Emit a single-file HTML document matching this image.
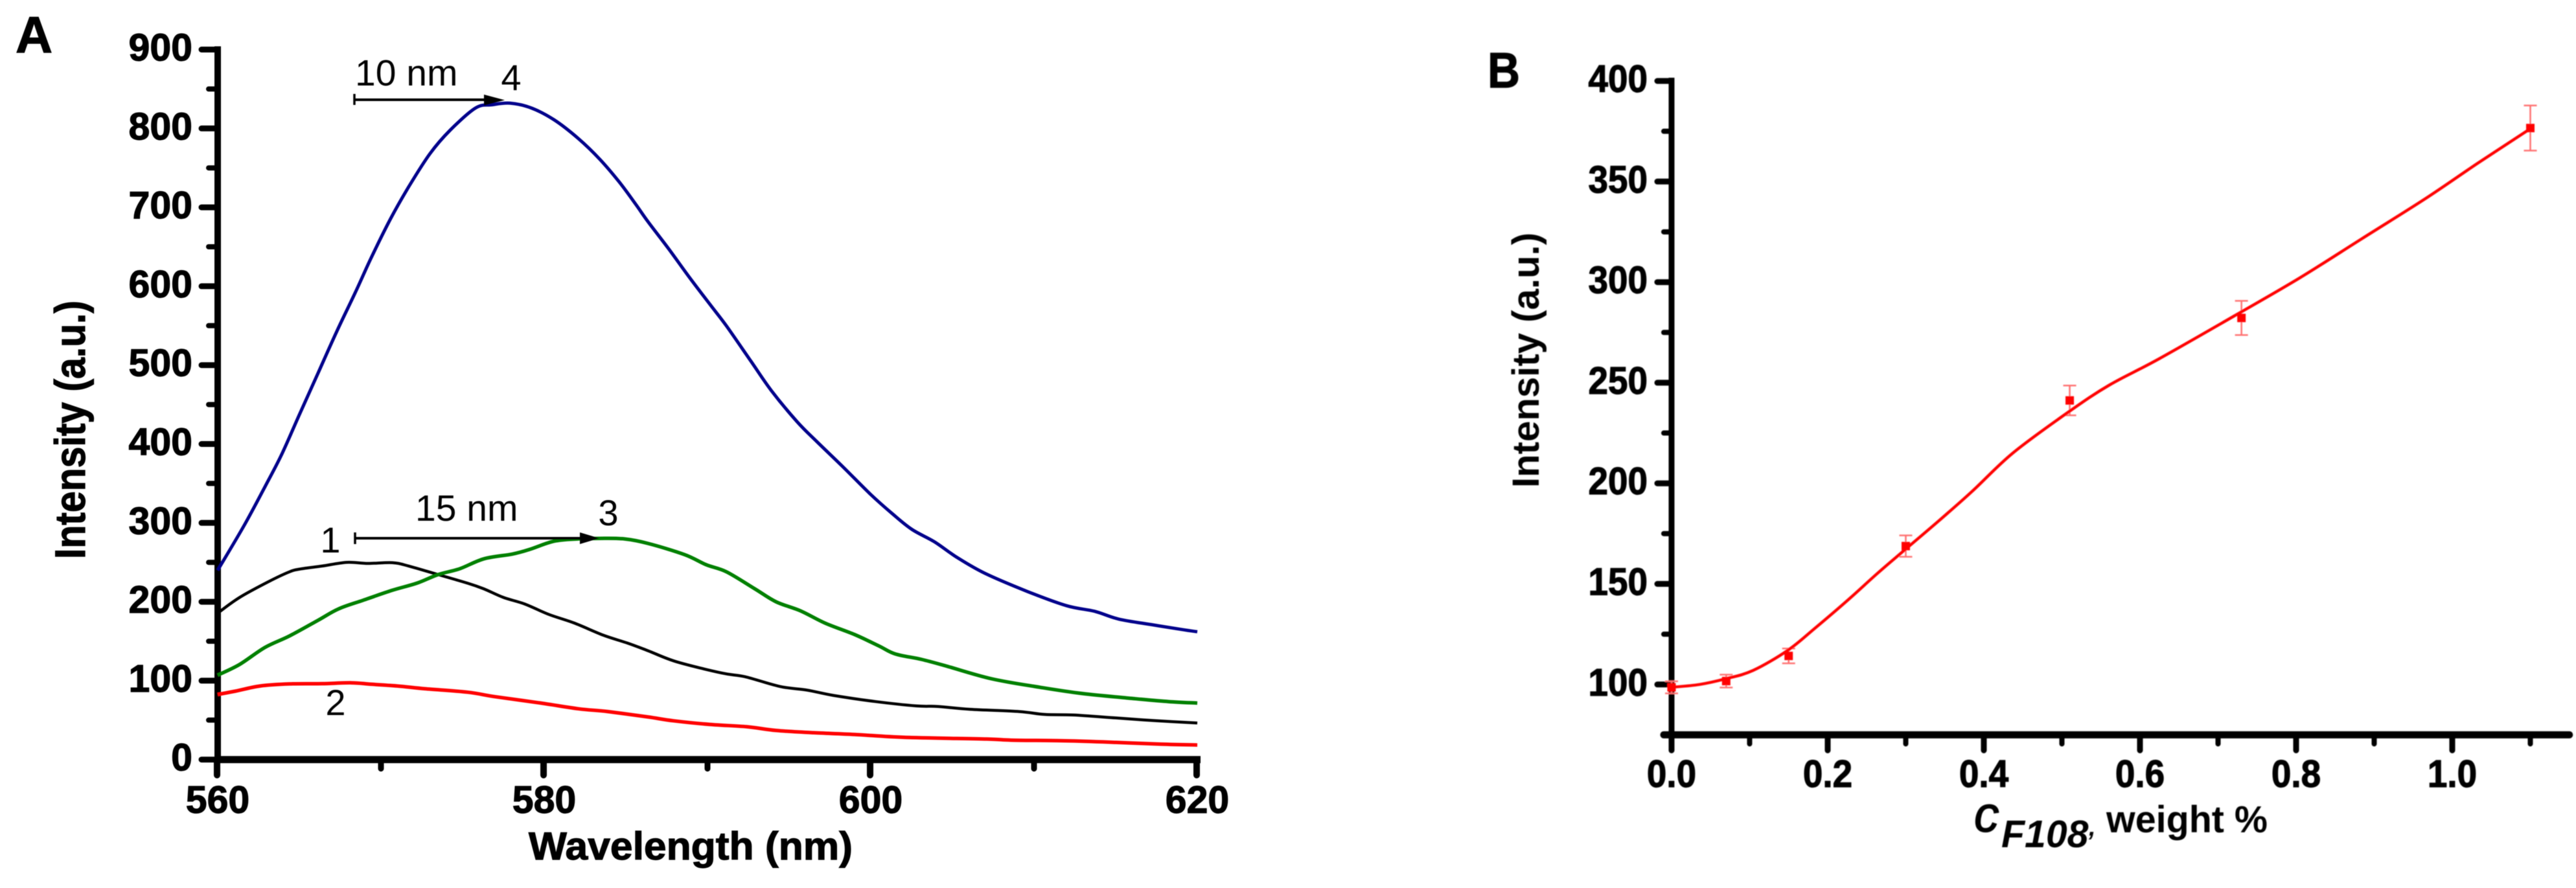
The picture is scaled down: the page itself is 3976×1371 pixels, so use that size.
<!DOCTYPE html>
<html lang="en">
<head>
<meta charset="utf-8">
<title>Fluorescence spectra and intensity versus F108 concentration</title>
<style>
  html, body { margin: 0; padding: 0; background: #fff; }
  svg { display: block; }
  text { font-family: "Liberation Sans", Arial, sans-serif; fill: #000; }
  .b { font-weight: bold; }
  .h { font-weight: bold; stroke: #000; stroke-width: 1.2px; }
</style>
</head>
<body>
<svg id="figure" xmlns="http://www.w3.org/2000/svg" width="3976" height="1371" viewBox="0 0 3976 1371">
  <defs>
    <filter id="soft" x="-2%" y="-2%" width="104%" height="104%"><feGaussianBlur stdDeviation="0.9"/></filter>
    <filter id="softer" x="-2%" y="-2%" width="104%" height="104%"><feGaussianBlur stdDeviation="0.5"/></filter>
  </defs>
  <rect width="3976" height="1371" fill="#fff"/>

  <g id="panel-a" filter="url(#softer)">
    <text class="h" x="24" y="81" font-size="79">A</text>
    <text class="h" font-size="66" textLength="399" lengthAdjust="spacingAndGlyphs" transform="translate(131,863) rotate(-90)">Intensity (a.u.)</text>
    <text class="h" x="816" y="1327" font-size="60" textLength="500" lengthAdjust="spacingAndGlyphs">Wavelength (nm)</text>
    <g id="a-axes"></g>
    <g id="a-curves"></g>

    <g>
      <line x1="547" y1="154" x2="752" y2="154" stroke="#000" stroke-width="4"/>
      <line x1="547" y1="145" x2="547" y2="162" stroke="#000" stroke-width="3.5"/>
      <polygon points="747,146 779,154.5 747,163" fill="#000"/>
    </g>
    <text x="548" y="132" font-size="57">10 nm</text>
    <text x="789" y="139" font-size="56" text-anchor="middle">4</text>

    <g>
      <line x1="548" y1="831" x2="900" y2="831" stroke="#000" stroke-width="4"/>
      <line x1="548" y1="822" x2="548" y2="840" stroke="#000" stroke-width="3.5"/>
      <polygon points="895,822 925,831 895,840" fill="#000"/>
    </g>
    <text x="641" y="804" font-size="57">15 nm</text>
    <text x="510" y="853" font-size="56" text-anchor="middle">1</text>
    <text x="518" y="1104" font-size="56" text-anchor="middle">2</text>
    <text x="939" y="811" font-size="56" text-anchor="middle">3</text>
  </g>

  <g id="panel-b" filter="url(#soft)">
    <text class="h" font-size="77" transform="translate(2296,135) scale(.9,1)">B</text>
    <text class="b" font-size="58" textLength="394" lengthAdjust="spacingAndGlyphs" transform="translate(2375,753) rotate(-90)">Intensity (a.u.)</text>
    <g>
      <text font-style="italic" stroke="#000" stroke-width="1.5" x="3047" y="1284" font-size="77">c</text>
      <text class="b" font-style="italic" x="3089" y="1308" font-size="59">F108</text>
      <text class="b" font-style="italic" x="3224" y="1290" font-size="38">,</text>
      <text class="b" x="3251" y="1285" font-size="58" textLength="249" lengthAdjust="spacingAndGlyphs">weight %</text>
    </g>
    <g id="b-axes"></g>
    <g id="b-series"></g>
  </g>
</svg>

<script>
/* ---------- Panel A data ---------- */
const aYTicks = [0, 100, 200, 300, 400, 500, 600, 700, 800, 900];
const aYMinor = [50, 150, 250, 350, 450, 550, 650, 750, 850];
const aXTicks = [560, 580, 600, 620];
const aXMinor = [570, 590, 610];

const curve4Wavelength = [560, 561.6, 562.9, 563.9, 565, 566.15, 567.3, 568.43, 569.4, 570.6, 571.7, 573, 574.25, 575.8, 576.8, 577.9, 579.2, 580.6, 582.1, 583.4, 584.6, 585.6, 586.35, 587.6, 588.9, 590.15, 591.15, 592.66, 593.9, 595.5, 596.7, 598.25, 600, 601.3, 602.5, 603.9, 605.3, 607, 609.6, 612, 613.7, 615.2, 617.2, 619, 620];
const curve4Intensity = [240, 296, 346, 386, 437, 490, 543, 592, 636, 686, 726, 768, 798, 826, 830, 832, 826, 811, 787, 761, 732, 704, 682, 648, 611, 577, 550, 505, 468, 428, 403, 372, 336, 312, 292, 276, 256, 236, 213, 195, 188, 178, 171, 165, 162];

const curve1Wavelength = [560, 561.34, 563.1, 564.4, 565.1, 566.4, 567.9, 569.2, 570.7, 571.7, 573.5, 575.3, 576.3, 577.5, 578.8, 580.3, 581.85, 583.6, 585.1, 586.35, 588.1, 590.9, 592.3, 594.45, 596.1, 597.7, 600.3, 602.8, 604.1, 606.1, 609.1, 610.65, 612.4, 615, 617.5, 620];
const curve1Intensity = [185.6, 205.5, 225.4, 238, 241.7, 245.3, 250, 248.6, 249.6, 245.3, 234.5, 223.6, 216.4, 205.5, 197.2, 183.8, 173, 157.8, 147.6, 138, 124, 109.6, 105, 92.6, 88, 81.4, 73.5, 68, 67.3, 63.7, 60.8, 57.2, 56.5, 52.8, 49.2, 46.3];

const curve3Wavelength = [560, 561.34, 562.9, 564.4, 566.15, 567.4, 568.9, 570.7, 572.2, 573.5, 574.8, 576.3, 578.05, 579.1, 580.6, 582.1, 583.4, 584.9, 586.35, 588.6, 589.9, 591.16, 592.9, 594.2, 595.7, 597.2, 599, 600.5, 601.5, 603.1, 604.6, 607.4, 610.4, 613, 616.2, 618.25, 620];
const curve3Intensity = [107, 120.5, 142.2, 156.7, 176.6, 191, 201.9, 214.6, 223.6, 234.5, 241.7, 254.4, 260.5, 266.3, 276.8, 279.7, 280.4, 279.7, 274, 259.8, 247.1, 238, 216.4, 200, 188.5, 173, 158.5, 144, 133.9, 127, 118.7, 102.4, 91.5, 83.6, 77.1, 73.5, 71.6];

const curve2Wavelength = [560, 561.1, 562.6, 564.4, 566.4, 568.2, 569.4, 571, 572.7, 575.3, 577, 579.8, 582.1, 583.9, 586.35, 587.9, 590.15, 592.4, 594.2, 596.5, 599, 602.05, 607.1, 608.6, 611.7, 614.2, 617.75, 620];
const curve2Intensity = [82.5, 86.8, 93.3, 95.9, 96.2, 97.3, 95.5, 93.3, 89.7, 85.4, 79.6, 71.6, 64.4, 60.8, 54, 49.2, 44.5, 41.6, 36.9, 34, 31.8, 28.2, 26, 24.6, 23.9, 22.4, 19.5, 18.5];

/* ---------- Panel B data ---------- */
const bYTicks = [100, 150, 200, 250, 300, 350, 400];
const bYMinor = [75, 125, 175, 225, 275, 325, 375];
const bXTicks = [0, 0.2, 0.4, 0.6, 0.8, 1.0];
const bXMinor = [0.1, 0.3, 0.5, 0.7, 0.9, 1.1];

const concentration = [0, 0.07, 0.15, 0.3, 0.51, 0.73, 1.1];
const pointIntensity = [98.6, 101.7, 114.2, 168.8, 241.2, 282.2, 376.6];
const pointError = [3, 3.2, 3.7, 5.3, 7.4, 8.5, 11.2];

const fitConcentration = [0, 0.0357, 0.069, 0.1045, 0.149, 0.1838, 0.226, 0.263, 0.299, 0.3427, 0.385, 0.437, 0.5086, 0.5615, 0.625, 0.7288, 0.805, 0.8843, 0.9636, 1.0323, 1.099];
const fitIntensity = [98.6, 100, 102.8, 107, 117, 128, 142, 155, 167, 181.5, 196, 215, 235.5, 249, 262, 285, 302.2, 321.6, 341, 359, 376];

/* ---------- Axis functions ---------- */
const axX = v => 336 + (v - 560) * 25.2;
const axY = v => 1172.7 - v * 1.218;
const bxX = v => 2580 + v * 1205;
const bxY = v => 125 + (400 - v) * 3.106;

const SVGNS = 'http://www.w3.org/2000/svg';
function mk(parent, tag, attrs) {
  const el = document.createElementNS(SVGNS, tag);
  for (const k in attrs) el.setAttribute(k, attrs[k]);
  parent.appendChild(el);
  return el;
}
function smoothPath(xs, ys) {
  let d = 'M' + xs[0].toFixed(1) + ' ' + ys[0].toFixed(1);
  for (let i = 0; i < xs.length - 1; i++) {
    const p0 = Math.max(i - 1, 0), p3 = Math.min(i + 2, xs.length - 1);
    const c1x = xs[i] + (xs[i + 1] - xs[p0]) / 6, c1y = ys[i] + (ys[i + 1] - ys[p0]) / 6;
    const c2x = xs[i + 1] - (xs[p3] - xs[i]) / 6, c2y = ys[i + 1] - (ys[p3] - ys[i]) / 6;
    d += 'C' + c1x.toFixed(1) + ' ' + c1y.toFixed(1) + ' ' + c2x.toFixed(1) + ' ' + c2y.toFixed(1) + ' ' + xs[i + 1].toFixed(1) + ' ' + ys[i + 1].toFixed(1);
  }
  return d;
}

/* ---------- Panel A axes ---------- */
const aAxes = document.getElementById('a-axes');
const aYLine = mk(aAxes, 'line', { x1: axX(560), x2: axX(560), y1: axY(900) - 5, y2: axY(0) + 5, stroke: '#000', 'stroke-width': 10 });


const aXLine = mk(aAxes, 'line', { x1: axX(560) - 5, x2: axX(620) + 5, y1: axY(0), y2: axY(0), stroke: '#000', 'stroke-width': 11 });



aYTicks.forEach(v => {
  const t = mk(aAxes, 'line', { x1: axX(560) - 25, x2: axX(560), y1: axY(v), y2: axY(v), stroke: '#000', 'stroke-width': 9, 'stroke-linecap': 'round' });
  
  
  const l = mk(aAxes, 'text', { x: 297, y: axY(v) + 17, 'font-size': 59, 'text-anchor': 'end', class: 'h' });
  l.textContent = v;
  
  
});
aYMinor.forEach(v => {
  const t = mk(aAxes, 'line', { x1: axX(560) - 14, x2: axX(560), y1: axY(v), y2: axY(v), stroke: '#000', 'stroke-width': 8, 'stroke-linecap': 'round' });
  
  
});
aXTicks.forEach(v => {
  const t = mk(aAxes, 'line', { x1: axX(v) - 1, x2: axX(v) - 1, y1: axY(0), y2: axY(0) + 24, stroke: '#000', 'stroke-width': 10, 'stroke-linecap': 'round' });
  
  
  const l = mk(aAxes, 'text', { x: axX(v), y: 1255, 'font-size': 59, 'text-anchor': 'middle', class: 'h' });
  l.textContent = v;
  
  
});
aXMinor.forEach(v => {
  const t = mk(aAxes, 'line', { x1: axX(v), x2: axX(v), y1: axY(0), y2: axY(0) + 14, stroke: '#000', 'stroke-width': 9, 'stroke-linecap': 'round' });
  
  
});

/* ---------- Panel A curves ---------- */
const aCurves = document.getElementById('a-curves');
const c1 = mk(aCurves, 'path', { d: smoothPath(curve1Wavelength.map(axX), curve1Intensity.map(axY)), fill: 'none', stroke: '#000', 'stroke-width': 4.5 });


const c2 = mk(aCurves, 'path', { d: smoothPath(curve2Wavelength.map(axX), curve2Intensity.map(axY)), fill: 'none', stroke: '#ff0000', 'stroke-width': 5.5 });


const c3 = mk(aCurves, 'path', { d: smoothPath(curve3Wavelength.map(axX), curve3Intensity.map(axY)), fill: 'none', stroke: '#008000', 'stroke-width': 5.5 });


const c4 = mk(aCurves, 'path', { d: smoothPath(curve4Wavelength.map(axX), curve4Intensity.map(axY)), fill: 'none', stroke: '#00008b', 'stroke-width': 5 });



/* ---------- Panel B axes ---------- */
const bAxes = document.getElementById('b-axes');
const bYLine = mk(bAxes, 'line', { x1: bxX(0), x2: bxX(0), y1: bxY(400) - 5, y2: bxY(75) + 5, stroke: '#000', 'stroke-width': 9 });


const bXLine = mk(bAxes, 'line', { x1: bxX(0) - 12, x2: bxX(1.15), y1: bxY(75), y2: bxY(75), stroke: '#000', 'stroke-width': 11, 'stroke-linecap': 'round' });



bYTicks.forEach(v => {
  const t = mk(bAxes, 'line', { x1: bxX(0) - 22, x2: bxX(0), y1: bxY(v), y2: bxY(v), stroke: '#000', 'stroke-width': 9, 'stroke-linecap': 'round' });
  
  
  const l = mk(bAxes, 'text', { 'font-size': 59, 'text-anchor': 'end', class: 'h', transform: 'translate(2543,' + (bxY(v) + 17) + ') scale(.93,1)' });
  l.textContent = v;
  
  
});
bYMinor.forEach(v => {
  const t = mk(bAxes, 'line', { x1: bxX(0) - 12, x2: bxX(0), y1: bxY(v), y2: bxY(v), stroke: '#000', 'stroke-width': 8, 'stroke-linecap': 'round' });
  
  
});
bXTicks.forEach(v => {
  const t = mk(bAxes, 'line', { x1: bxX(v), x2: bxX(v), y1: bxY(75), y2: bxY(75) + 24, stroke: '#000', 'stroke-width': 9, 'stroke-linecap': 'round' });
  
  
  const l = mk(bAxes, 'text', { 'font-size': 59, 'text-anchor': 'middle', class: 'h', transform: 'translate(' + bxX(v) + ',1215) scale(.93,1)' });
  l.textContent = v.toFixed(1);
  
  
});
bXMinor.forEach(v => {
  const t = mk(bAxes, 'line', { x1: bxX(v), x2: bxX(v), y1: bxY(75), y2: bxY(75) + 14, stroke: '#000', 'stroke-width': 8, 'stroke-linecap': 'round' });
  
  
});

/* ---------- Panel B series ---------- */
const bSeries = document.getElementById('b-series');
concentration.forEach((c, i) => {
  const px = bxX(c);
  const up = bxY(pointIntensity[i] + pointError[i]);
  const lo = bxY(pointIntensity[i] - pointError[i]);
  const bar = mk(bSeries, 'path', { d: 'M' + (px - 10) + ' ' + up + 'H' + (px + 10) + 'M' + px + ' ' + up + 'V' + lo + 'M' + (px - 10) + ' ' + lo + 'H' + (px + 10), fill: 'none', stroke: '#ff6f6f', 'stroke-width': 2.5 });
  
  
  const m = mk(bSeries, 'rect', { x: px - 6.5, y: bxY(pointIntensity[i]) - 6.5, width: 13, height: 13, fill: '#ff0000' });
  
  
});
const fit = mk(bSeries, 'path', { d: smoothPath(fitConcentration.map(bxX), fitIntensity.map(bxY)), fill: 'none', stroke: '#ff0000', 'stroke-width': 4.5 });


</script>
</body>
</html>
